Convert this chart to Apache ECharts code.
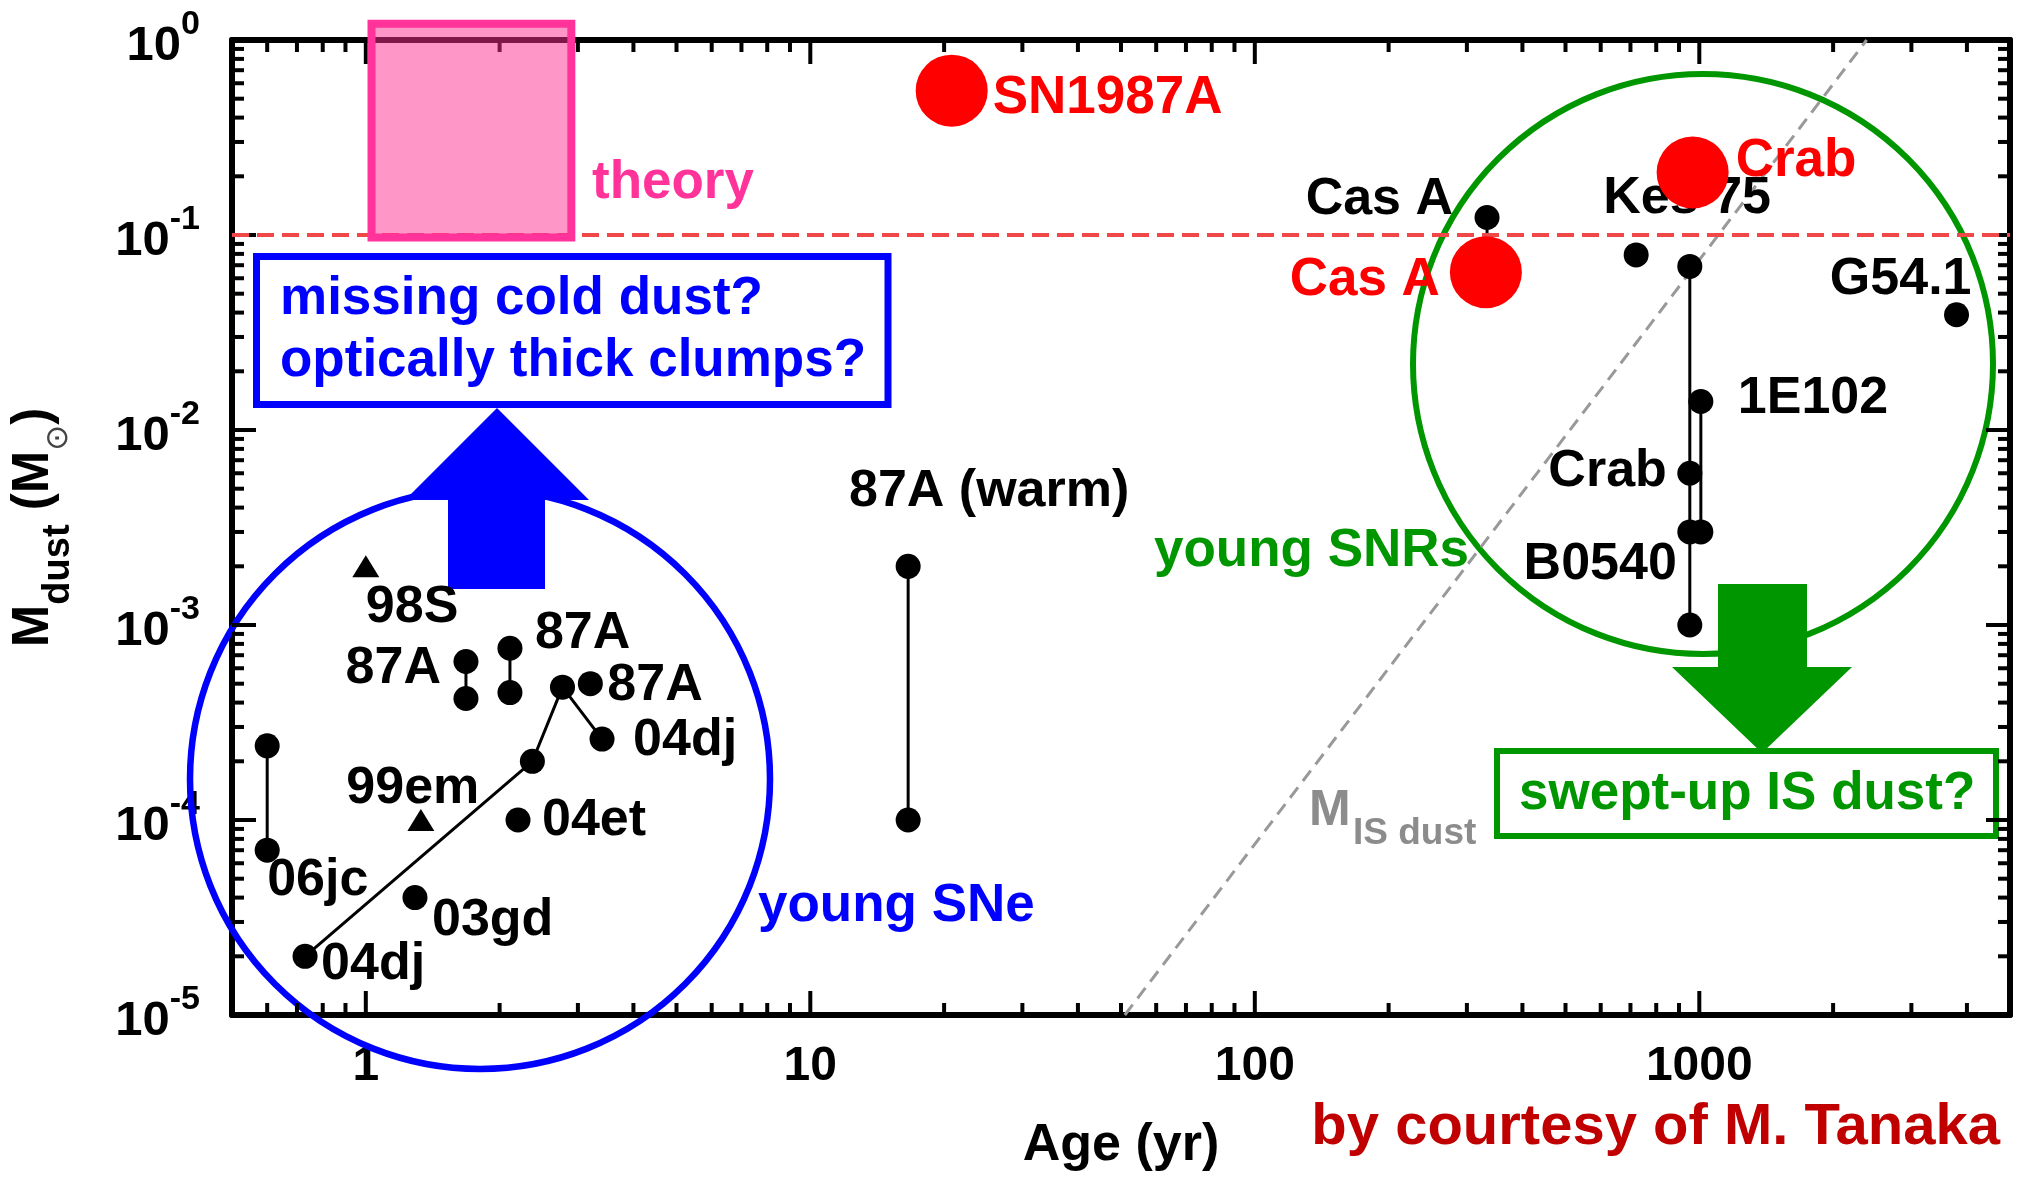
<!DOCTYPE html>
<html>
<head>
<meta charset="utf-8">
<script src="https://cdn.jsdelivr.net/npm/echarts@6/dist/echarts.min.js"></script>
<style>
  html, body { margin: 0; padding: 0; background: #fff; }
  #chart { width: 2026px; height: 1179px; }
</style>
</head>
<body>
<div id="chart"></div>
<script>
// ---- axis ranges and tick labels ----
const ageRange = [0.5, 5000];
const massRange = [1e-5, 1];
const ageTickLabels = [1, 10, 100, 1000];
const massTickLabels = [1e-5, 1e-4, 1e-3, 1e-2, 1e-1, 1];

// ---- young supernovae: age (yr), dust mass (Msun) ----
const sn06jcAge = [0.60, 0.60];
const sn06jcMass = [2.4e-4, 7.0e-5];
const sn04djAge = [0.73, 2.37, 2.77, 3.4];
const sn04djMass = [2.0e-5, 2.0e-4, 4.8e-4, 2.6e-4];
const sn87aEarlyAge = [1.68, 1.68];
const sn87aEarlyMass = [6.5e-4, 4.2e-4];
const sn87aMidAge = [2.11, 2.11];
const sn87aMidMass = [7.6e-4, 4.5e-4];
const singleSnNames = ['87A', '04et', '03gd'];
const singleSnAge = [3.2, 2.2, 1.29];
const singleSnMass = [5.0e-4, 1.0e-4, 4.0e-5];
const limitSnNames = ['98S', '99em'];
const limitSnAge = [1.0, 1.33];
const limitSnMass = [2.0e-3, 1.0e-4];
const warm87aAge = [16.6, 16.6];
const warm87aMass = [2.0e-3, 1.0e-4];

// ---- young supernova remnants ----
const casAAge = [333, 333];
const casAMass = [0.123, 0.065];
const snrDotNames = ['Kes 75', 'G54.1'];
const snrDotAge = [721, 3790];
const snrDotMass = [0.079, 0.039];
const crabColumnAge = [952, 952, 952, 952];
const crabColumnMass = [0.069, 0.006, 0.003, 0.001];
const e0102ColumnAge = [1008, 1008];
const e0102ColumnMass = [0.014, 0.003];

// ---- cold dust (far-IR / sub-mm) ----
const coldNames = ['SN1987A', 'Crab', 'Cas A'];
const coldAge = [20.8, 966, 331];
const coldMass = [0.55, 0.209, 0.0645];

// ---- theory range, reference levels ----
const theoryAge = [1.03, 2.9];
const theoryMass = [0.097, 1.21];
const dustLevel = 0.1;
const isDustAge = [51, 2380];
const isDustMass = [1e-5, 1];

// ---- styling ----
const FONT = '"Liberation Sans", Arial, Helvetica, sans-serif';
const BLUE = '#0000ff', GREEN = '#009600', PINK = '#ff3399', RED = '#ff0000';
const DARKRED = '#c00000', GRAY = '#8c8c8c';
const MAJOR_TICK = 24, MINOR_TICK = 12, TICK_W = 4;

// 2..9 x 10^k tick positions inside a log range
function minorTicks(range) {
  const out = [];
  const d0 = Math.floor(Math.log10(range[0]));
  const d1 = Math.ceil(Math.log10(range[1]));
  for (let d = d0; d < d1; d++) {
    for (let m = 2; m <= 9; m++) {
      const v = +(m * Math.pow(10, d)).toPrecision(6);
      if (v > range[0] && v < range[1]) out.push(v);
    }
  }
  return out;
}
const ageMinor = minorTicks(ageRange);
const massMinor = minorTicks(massRange);

const labelBase = {
  position: 'inside', verticalAlign: 'middle',
  fontFamily: FONT, fontWeight: 'bold', fontSize: 52, color: '#000', opacity: 1
};

function points(ages, masses, labels, place) {
  return ages.map((a, i) => {
    const item = { value: [a, masses[i]] };
    if (labels && labels[i]) {
      item.label = Object.assign({ show: true, formatter: labels[i] }, place[i]);
    }
    return item;
  });
}

function blackLine(name, ages, masses, labels, place) {
  return {
    name, type: 'line', z: 3, silent: true, clip: false,
    data: points(ages, masses, labels, place),
    symbol: 'circle', symbolSize: 25, showSymbol: true,
    itemStyle: { color: '#000', opacity: 1 },
    lineStyle: { color: '#000', width: 3 },
    label: Object.assign({ show: false }, labelBase)
  };
}

function blackDots(name, ages, masses, labels, place, symbol, size) {
  return {
    name, type: 'scatter', z: 3, silent: true, clip: false,
    data: points(ages, masses, labels, place),
    symbol, symbolSize: size,
    itemStyle: { color: '#000', opacity: 1 },
    label: Object.assign({ show: false }, labelBase)
  };
}

// label placement: anchored at the symbol centre, then shifted
const L = (dx, dy) => ({ align: 'left', offset: [dx, dy] });
const R = (dx, dy) => ({ align: 'right', offset: [dx, dy] });
const C = (dx, dy) => ({ align: 'center', offset: [dx, dy] });

const axisLine = { show: true, onZero: false, lineStyle: { color: '#000', width: 6 } };

function xAxisDef(position) {
  const main = position === 'bottom';
  return {
    type: 'log', logBase: 10, min: ageRange[0], max: ageRange[1], position,
    axisLine,
    axisTick: { show: false }, minorTick: { show: false },
    splitLine: { show: false }, minorSplitLine: { show: false },
    axisPointer: { show: false },
    axisLabel: main ? {
      show: true, customValues: ageTickLabels, margin: 28,
      formatter: v => String(Math.round(v)),
      fontFamily: FONT, fontWeight: 'bold', fontSize: 48, color: '#000'
    } : { show: false },
    name: main ? 'Age (yr)' : '',
    nameLocation: 'middle', nameGap: 105,
    nameTextStyle: { fontFamily: FONT, fontWeight: 'bold', fontSize: 52, color: '#000' }
  };
}

function yAxisDef(position) {
  const main = position === 'left';
  return {
    type: 'log', logBase: 10, min: massRange[0], max: massRange[1], position,
    axisLine,
    axisTick: { show: false }, minorTick: { show: false },
    splitLine: { show: false }, minorSplitLine: { show: false },
    axisPointer: { show: false },
    axisLabel: main ? {
      show: true, customValues: massTickLabels, margin: 32,
      formatter: v => '{b|10}{s|' + Math.round(Math.log10(v)) + '}',
      rich: {
        b: { fontFamily: FONT, fontWeight: 'bold', fontSize: 49, lineHeight: 64, color: '#000', padding: [12, 0, 0, 0] },
        s: { fontFamily: FONT, fontWeight: 'bold', fontSize: 34, lineHeight: 34, color: '#000', verticalAlign: 'top' }
      }
    } : { show: false },
    name: main ? '{m|M}{sub|dust}{m| (M}{sun|\u2299}{m|)}' : '',
    nameLocation: 'middle', nameRotate: 90, nameGap: 154,
    nameTextStyle: {
      rich: {
        m: { fontFamily: FONT, fontWeight: 'bold', fontSize: 51, lineHeight: 51, color: '#000', verticalAlign: 'top' },
        sub: { fontFamily: FONT, fontWeight: 'bold', fontSize: 38, lineHeight: 70, color: '#000', verticalAlign: 'bottom' },
        sun: { fontFamily: '"DejaVu Sans", sans-serif', fontSize: 31, lineHeight: 70, color: '#444', verticalAlign: 'bottom', padding: [0, 0, 4, 0] }
      }
    }
  };
}

function annotText(text, x, y, color, size, align) {
  return {
    type: 'text', x, y, z: 8, silent: true,
    style: {
      text, fill: color, font: 'bold ' + size + 'px ' + FONT,
      align: align || 'left', verticalAlign: 'middle'
    }
  };
}

const annotations = [
  // young SNe group
  { type: 'circle', z: 1, silent: true, shape: { cx: 480, cy: 779, r: 290 },
    style: { fill: 'none', stroke: BLUE, lineWidth: 6.5 } },
  { type: 'polygon', z: 1, silent: true,
    shape: { points: [[448, 589], [448, 500], [405, 500], [497, 408], [589, 500], [545, 500], [545, 589]] },
    style: { fill: BLUE } },
  { type: 'rect', z: 1, silent: true, shape: { x: 256.5, y: 256.5, width: 631.5, height: 148 },
    style: { fill: 'none', stroke: BLUE, lineWidth: 7 } },
  annotText('missing cold dust?', 280, 299, BLUE, 53),
  annotText('optically thick clumps?', 280, 361, BLUE, 53),
  annotText('young SNe', 758, 906, BLUE, 53),
  // young SNRs group
  { type: 'circle', z: 1, silent: true, shape: { cx: 1703, cy: 364, r: 290 },
    style: { fill: 'none', stroke: GREEN, lineWidth: 6 } },
  { type: 'polygon', z: 1, silent: true,
    shape: { points: [[1718, 584], [1718, 667], [1672, 667], [1762, 753], [1852, 667], [1807, 667], [1807, 584]] },
    style: { fill: GREEN } },
  { type: 'rect', z: 1, silent: true, shape: { x: 1497, y: 751, width: 499, height: 85 },
    style: { fill: 'none', stroke: GREEN, lineWidth: 6 } },
  annotText('swept-up IS dust?', 1519, 794, GREEN, 53),
  annotText('young SNRs', 1154, 551, GREEN, 53),
  // other annotations
  annotText('theory', 592, 183, PINK, 53),
  annotText('M', 1309, 811, GRAY, 50),
  annotText('IS dust', 1353, 834, GRAY, 37),
  annotText('by courtesy of M. Tanaka', 2000, 1128, DARKRED, 58, 'right')
];

const dataSeries = [
  // interstellar dust swept up by the remnant, plus the 0.1 Msun level
  {
    name: 'M_IS dust', type: 'line', z: 2, silent: true, symbol: 'none',
    data: isDustAge.map((a, i) => [a, isDustMass[i]]),
    lineStyle: { color: '#999', width: 3, type: [13, 8] },
    markLine: {
      silent: true, symbol: 'none', label: { show: false },
      lineStyle: { color: '#f04848', width: 4, type: [17, 8] },
      data: [{ yAxis: dustLevel }]
    }
  },
  blackLine('SN 2006jc', sn06jcAge, sn06jcMass, [null, '06jc'], [null, L(0, 30)]),
  blackLine('SN 2004dj', sn04djAge, sn04djMass, ['04dj', null, null, '04dj'],
    [L(16, 8), null, null, L(31, 2)]),
  blackLine('SN 1987A early', sn87aEarlyAge, sn87aEarlyMass, ['87A', null], [R(-25, 7), null]),
  blackLine('SN 1987A mid', sn87aMidAge, sn87aMidMass, ['87A', null], [L(25, -15), null]),
  blackLine('SN 1987A warm', warm87aAge, warm87aMass, ['87A (warm)', null], [C(81, -75), null]),
  blackLine('Cas A', casAAge, casAMass, ['Cas A', null], [R(-34, -18), null]),
  blackLine('Crab column', crabColumnAge, crabColumnMass, [null, 'Crab', 'B0540', null],
    [null, R(-23, -2), R(-13, 33), null]),
  blackLine('1E0102 column', e0102ColumnAge, e0102ColumnMass, ['1E102', null], [L(37, -3), null]),
  blackDots('single SNe', singleSnAge, singleSnMass, singleSnNames,
    [L(17, 2), L(24, 1), L(17, 23)], 'circle', 25),
  blackDots('SNRs', snrDotAge, snrDotMass, snrDotNames,
    [C(51, -56), R(15, -35)], 'circle', 25),
  blackDots('limits', limitSnAge, limitSnMass, limitSnNames,
    [L(0, 41), C(-8, -31)], 'triangle', [27, 22]),
  // theory prediction box
  {
    name: 'theory', type: 'custom', z: 6, clip: false, silent: true,
    data: [[theoryAge[0], theoryMass[0], theoryAge[1], theoryMass[1]]],
    encode: { x: [0, 2], y: [1, 3] },
    renderItem: (params, api) => {
      const a = api.coord([api.value(0), api.value(3)]);
      const b = api.coord([api.value(2), api.value(1)]);
      return {
        type: 'rect',
        shape: { x: a[0], y: a[1], width: b[0] - a[0], height: b[1] - a[1] },
        style: { fill: 'rgba(255,45,145,0.5)', stroke: PINK, lineWidth: 8 }
      };
    }
  },
  // cold dust detections
  {
    name: 'cold dust', type: 'scatter', z: 5, silent: true, clip: false,
    symbol: 'circle', symbolSize: 72,
    itemStyle: { color: RED, opacity: 1 },
    data: points(coldAge, coldMass, coldNames, [L(41, 8), L(43, -11), R(-46, 8)]),
    label: Object.assign({ show: false }, labelBase, { color: RED, fontSize: 53 })
  }
];

const option = {
  animation: false,
  backgroundColor: '#fff',
  grid: { left: 232, right: 16, top: 40, bottom: 164, containLabel: false, outerBoundsMode: 'none' },
  xAxis: [xAxisDef('bottom'), xAxisDef('top')],
  yAxis: [yAxisDef('left'), yAxisDef('right')],
  series: dataSeries,
  graphic: annotations
};

const chart = echarts.init(document.getElementById('chart'), null, { renderer: 'canvas' });
chart.setOption(option);

// inward tick marks on all four sides of the frame, each a short line
// segment whose inner end is found from the axes' own log scales
const tickSegments = [];
try {
  const toX = v => chart.convertToPixel({ xAxisIndex: 0 }, v);
  const toY = v => chart.convertToPixel({ yAxisIndex: 0 }, v);
  const fromX = px => chart.convertFromPixel({ xAxisIndex: 0 }, px);
  const fromY = px => chart.convertFromPixel({ yAxisIndex: 0 }, px);
  const left = toX(ageRange[0]), right = toX(ageRange[1]);
  const bottom = toY(massRange[0]), top = toY(massRange[1]);
  const segment = (a, b) => tickSegments.push({
    type: 'line', z: 4, silent: true, clip: false, symbol: 'none',
    lineStyle: { color: '#000', width: TICK_W, cap: 'butt' },
    emphasis: { disabled: true },
    data: [a, b]
  });
  ageTickLabels.concat(ageMinor).forEach(v => {
    const len = ageTickLabels.indexOf(v) >= 0 ? MAJOR_TICK : MINOR_TICK;
    segment([v, massRange[0]], [v, fromY(bottom - len)]);
    segment([v, massRange[1]], [v, fromY(top + len)]);
  });
  massTickLabels.concat(massMinor).forEach(v => {
    const len = massTickLabels.indexOf(v) >= 0 ? MAJOR_TICK : MINOR_TICK;
    segment([ageRange[0], v], [fromX(left + len), v]);
    segment([ageRange[1], v], [fromX(right - len), v]);
  });
} catch (e) { /* frame stays without tick marks */ }
chart.setOption({ series: dataSeries.concat(tickSegments) });
</script>
</body>
</html>
